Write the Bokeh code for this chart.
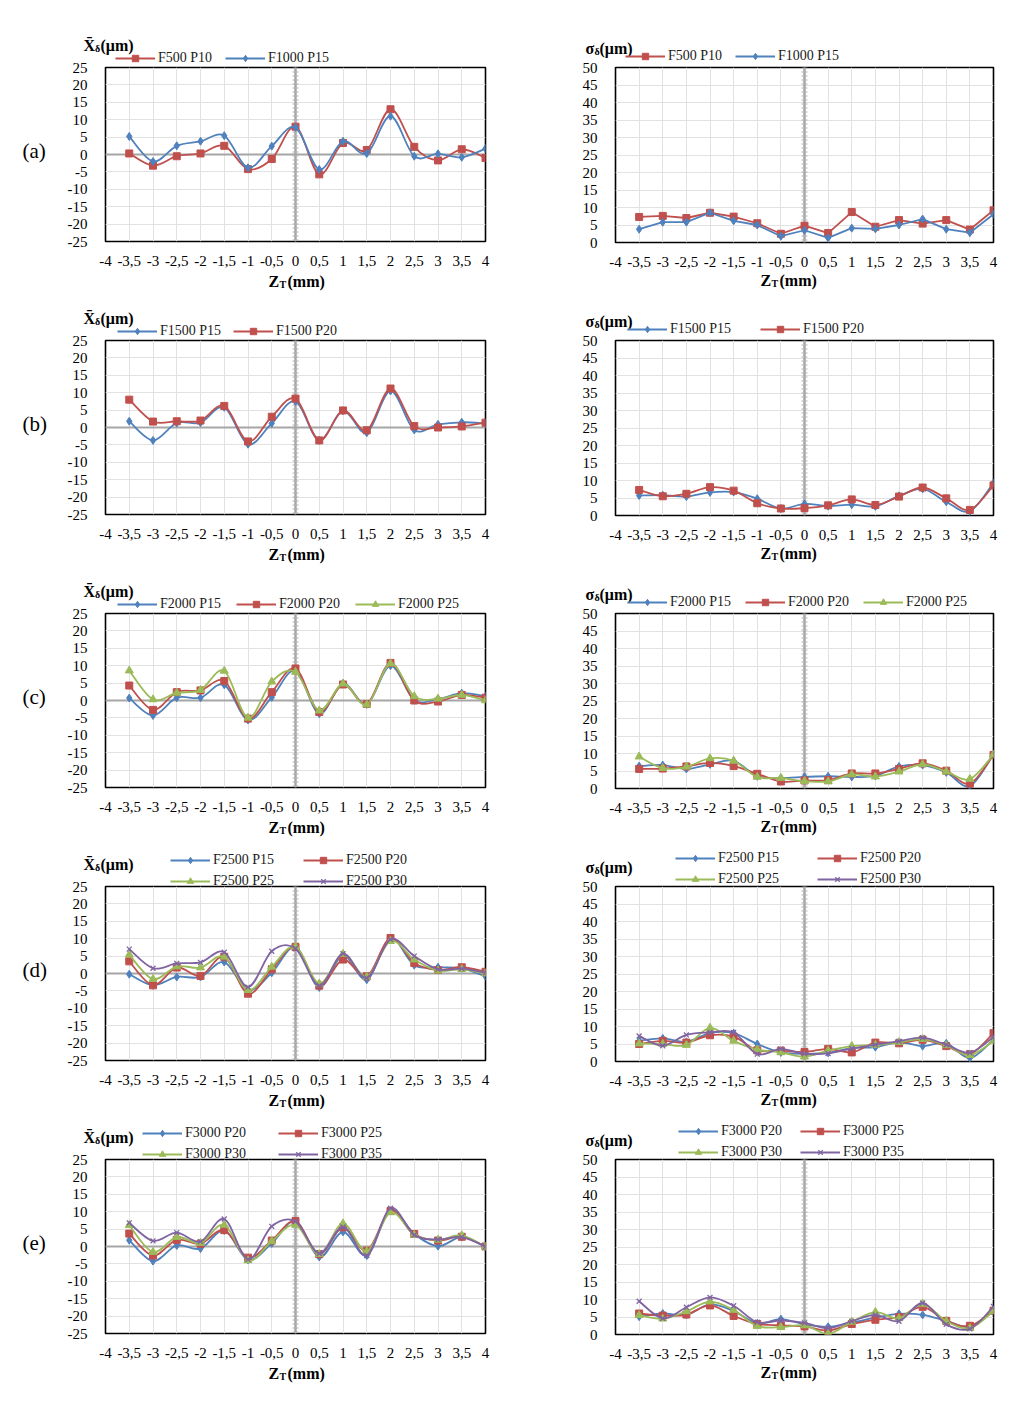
import numpy as np
from bokeh.plotting import figure
from bokeh.layouts import column, row
from bokeh.models import Range1d, FixedTicker, Span, Legend, LegendItem, Label
from bokeh.embed import file_html
from bokeh.resources import INLINE

# ---------------- data ----------------
Z_MM = [-3.5, -3, -2.5, -2, -1.5, -1, -0.5, 0, 0.5, 1, 1.5, 2, 2.5, 3, 3.5, 4]
X_TICKS = [-4, -3.5, -3, -2.5, -2, -1.5, -1, -0.5, 0, 0.5, 1, 1.5, 2, 2.5, 3, 3.5, 4]
X_TICK_LABELS = ["-4", "-3,5", "-3", "-2,5", "-2", "-1,5", "-1", "-0,5", "0", "0,5", "1",
                 "1,5", "2", "2,5", "3", "3,5", "4"]
MEAN_TICKS = [-25, -20, -15, -10, -5, 0, 5, 10, 15, 20, 25]
SD_TICKS = [0, 5, 10, 15, 20, 25, 30, 35, 40, 45, 50]
ROW_LETTERS = ["(a)", "(b)", "(c)", "(d)", "(e)"]
MEAN_TITLE = "X\u0304"
SD_TITLE = "\u03c3"
SUB_DELTA = "\u03b4"
UNIT = "(\u03bcm)"
X_TITLE = ("Z", "T", "(mm)")

# (a)
MEAN_A_F500_P10 = [0.3, -3.2, -0.5, 0.3, 2.5, -4.2, -1.3, 8.0, -5.7, 3.3, 1.3, 13.0, 2.2, -1.7, 1.5, -1.0]
MEAN_A_F1000_P15 = [5.2, -2.0, 2.5, 3.8, 5.4, -3.8, 2.4, 7.8, -4.3, 3.8, 0.3, 11.0, -0.5, 0.2, -0.8, 1.7]
SD_A_F500_P10 = [7.3, 7.6, 7.0, 8.5, 7.4, 5.5, 2.5, 4.8, 2.7, 8.7, 4.5, 6.4, 5.4, 6.4, 3.7, 9.2]
SD_A_F1000_P15 = [3.8, 5.8, 5.8, 8.5, 6.2, 5.0, 1.8, 3.5, 1.3, 4.1, 3.9, 5.0, 6.7, 3.8, 2.8, 8.1]
# (b)
MEAN_B_F1500_P15 = [1.8, -3.7, 1.3, 1.4, 5.8, -4.8, 1.2, 7.5, -3.7, 4.8, -1.5, 10.5, -0.7, 0.9, 1.5, 1.2]
MEAN_B_F1500_P20 = [8.0, 1.7, 1.8, 2.0, 6.2, -4.0, 3.1, 8.3, -3.7, 4.9, -0.8, 11.2, 0.4, 0.0, 0.3, 1.4]
SD_B_F1500_P15 = [5.7, 5.8, 5.4, 6.6, 6.7, 4.8, 2.0, 3.3, 2.7, 3.1, 2.6, 5.6, 7.6, 3.9, 1.2, 9.3]
SD_B_F1500_P20 = [7.3, 5.5, 6.2, 8.1, 7.1, 3.5, 2.0, 2.1, 2.9, 4.6, 3.0, 5.4, 8.0, 4.9, 1.6, 8.6]
# (c)
MEAN_C_F2000_P15 = [0.7, -4.3, 0.8, 0.8, 4.5, -5.6, 0.9, 8.6, -3.8, 4.9, -1.1, 10.0, 0.1, 0.4, 2.1, 1.2]
MEAN_C_F2000_P20 = [4.3, -2.7, 2.4, 2.9, 5.6, -5.2, 2.4, 9.2, -3.3, 4.6, -1.0, 10.8, 0.0, -0.3, 1.6, 0.8]
MEAN_C_F2000_P25 = [8.6, 0.3, 2.2, 3.0, 8.5, -5.0, 5.4, 8.2, -2.9, 4.8, -1.2, 10.6, 1.2, 0.5, 1.6, 0.0]
SD_C_F2000_P15 = [6.4, 6.7, 5.6, 6.9, 7.9, 3.5, 3.0, 3.3, 3.5, 3.3, 3.6, 6.3, 6.7, 4.6, 0.7, 9.8]
SD_C_F2000_P20 = [5.6, 5.7, 6.3, 7.3, 6.4, 4.2, 2.0, 2.3, 2.4, 4.3, 4.3, 5.6, 7.2, 5.1, 1.4, 9.6]
SD_C_F2000_P25 = [9.1, 5.8, 6.2, 8.6, 7.9, 3.3, 3.0, 2.1, 2.0, 4.0, 3.4, 4.8, 6.9, 4.8, 2.7, 9.7]
# (d)
MEAN_D_F2500_P15 = [-0.2, -3.4, -1.0, -1.0, 3.3, -4.8, 0.2, 7.6, -4.0, 5.2, -1.8, 10.0, 2.4, 1.8, 1.5, -0.8]
MEAN_D_F2500_P20 = [3.5, -3.4, 1.7, -0.7, 4.8, -5.8, 1.2, 7.6, -3.5, 4.0, -0.8, 10.2, 3.0, 1.0, 1.8, 0.5]
MEAN_D_F2500_P25 = [5.4, -1.6, 2.0, 1.7, 4.8, -4.8, 1.9, 7.7, -2.9, 5.6, -1.0, 9.3, 4.0, 0.8, 1.2, 0.0]
MEAN_D_F2500_P30 = [7.0, 1.5, 2.9, 3.2, 6.1, -3.9, 6.4, 7.2, -3.5, 5.7, -1.3, 9.8, 5.0, 1.2, 1.4, 0.2]
SD_D_F2500_P15 = [5.9, 6.6, 5.6, 8.1, 8.1, 5.0, 2.6, 2.2, 2.5, 3.8, 4.1, 5.5, 4.4, 5.2, 1.0, 6.3]
SD_D_F2500_P20 = [5.0, 5.9, 5.4, 7.5, 7.1, 3.2, 3.1, 2.7, 3.6, 2.6, 5.4, 5.2, 6.2, 4.4, 2.1, 8.1]
SD_D_F2500_P25 = [5.1, 5.0, 4.7, 9.6, 5.9, 3.4, 2.6, 1.4, 3.1, 4.4, 4.7, 5.5, 6.4, 4.6, 1.8, 5.9]
SD_D_F2500_P30 = [7.3, 4.5, 7.6, 8.3, 8.3, 2.1, 3.6, 2.2, 2.3, 3.7, 4.8, 5.8, 6.8, 4.8, 2.5, 7.0]
# (e)
MEAN_E_F3000_P20 = [1.8, -4.2, 0.3, -0.6, 4.6, -3.8, 0.9, 7.3, -3.0, 4.2, -2.6, 10.3, 3.6, 0.1, 2.7, -0.1]
MEAN_E_F3000_P25 = [3.7, -2.6, 1.9, 0.8, 4.7, -3.2, 1.7, 7.3, -2.2, 5.5, -1.2, 10.2, 3.6, 1.7, 2.8, 0.0]
MEAN_E_F3000_P30 = [6.1, -1.6, 2.7, 1.0, 6.2, -4.0, 1.5, 6.2, -2.2, 6.6, -1.4, 9.8, 3.3, 1.9, 3.2, -0.1]
MEAN_E_F3000_P35 = [6.8, 1.6, 4.0, 1.4, 7.9, -3.7, 5.8, 7.2, -2.0, 5.6, -2.6, 11.0, 3.3, 2.0, 2.7, 0.0]
SD_E_F3000_P20 = [5.1, 6.0, 5.6, 8.6, 6.7, 3.2, 4.4, 2.9, 2.2, 3.4, 4.8, 5.9, 5.6, 3.9, 2.2, 7.0]
SD_E_F3000_P25 = [6.0, 5.4, 5.7, 8.3, 5.3, 3.0, 2.6, 2.3, 1.1, 3.0, 4.2, 5.0, 7.9, 3.9, 2.5, 6.8]
SD_E_F3000_P30 = [5.5, 4.5, 6.6, 9.4, 7.0, 2.4, 2.1, 2.6, 0.2, 3.6, 6.4, 4.6, 8.7, 3.8, 1.8, 6.7]
SD_E_F3000_P35 = [9.5, 4.6, 7.8, 10.6, 8.2, 3.5, 4.0, 3.3, 1.8, 3.8, 5.6, 3.8, 9.0, 2.9, 1.6, 8.0]

# ---------------- styles ----------------
SERIF = "Liberation Serif"
COLOR = {"blue": "#4F81BD", "red": "#C0504D", "green": "#9BBB59", "purple": "#8064A2"}
MARKER = {"blue": "diamond", "red": "square", "green": "triangle", "purple": "x"}
MSIZE = {"blue": 8, "red": 7, "green": 8, "purple": 7}
ROW_H = 273
TOP_PAD = 8

ROWS = [
    dict(mean=[("F500 P10", "red", MEAN_A_F500_P10), ("F1000 P15", "blue", MEAN_A_F1000_P15)],
         sd=[("F500 P10", "red", SD_A_F500_P10), ("F1000 P15", "blue", SD_A_F1000_P15)],
         mean_leg=(10, 62), sd_leg=(10, 62), sd_smooth=False),
    dict(mean=[("F1500 P15", "blue", MEAN_B_F1500_P15), ("F1500 P20", "red", MEAN_B_F1500_P20)],
         sd=[("F1500 P15", "blue", SD_B_F1500_P15), ("F1500 P20", "red", SD_B_F1500_P20)],
         mean_leg=(12, 68), sd_leg=(12, 85), sd_smooth=True),
    dict(mean=[("F2000 P15", "blue", MEAN_C_F2000_P15), ("F2000 P20", "red", MEAN_C_F2000_P20),
               ("F2000 P25", "green", MEAN_C_F2000_P25)],
         sd=[("F2000 P15", "blue", SD_C_F2000_P15), ("F2000 P20", "red", SD_C_F2000_P20),
             ("F2000 P25", "green", SD_C_F2000_P25)],
         mean_leg=(12, 71), sd_leg=(12, 70), sd_smooth=True),
    dict(mean=[("F2500 P15", "blue", MEAN_D_F2500_P15), ("F2500 P20", "red", MEAN_D_F2500_P20),
               ("F2500 P25", "green", MEAN_D_F2500_P25), ("F2500 P30", "purple", MEAN_D_F2500_P30)],
         sd=[("F2500 P15", "blue", SD_D_F2500_P15), ("F2500 P20", "red", SD_D_F2500_P20),
             ("F2500 P25", "green", SD_D_F2500_P25), ("F2500 P30", "purple", SD_D_F2500_P30)],
         mean_leg=(65, 85), sd_leg=(60, 94), sd_smooth=True),
    dict(mean=[("F3000 P20", "blue", MEAN_E_F3000_P20), ("F3000 P25", "red", MEAN_E_F3000_P25),
               ("F3000 P30", "green", MEAN_E_F3000_P30), ("F3000 P35", "purple", MEAN_E_F3000_P35)],
         sd=[("F3000 P20", "blue", SD_E_F3000_P20), ("F3000 P25", "red", SD_E_F3000_P25),
             ("F3000 P30", "green", SD_E_F3000_P30), ("F3000 P35", "purple", SD_E_F3000_P35)],
         mean_leg=(37, 88), sd_leg=(63, 74), sd_smooth=True),
]

LEFT_GEO = dict(min_border_left=105, frame_width=380, min_border_right=63,
                min_border_top=59, frame_height=174, min_border_bottom=40)
RIGHT_GEO = dict(min_border_left=67, frame_width=378, min_border_right=23,
                 min_border_top=57, frame_height=175, min_border_bottom=41)
LEFT_W = 105 + 380 + 63
RIGHT_W = 67 + 378 + 23
TOTAL_W = LEFT_W + RIGHT_W
TOTAL_H = TOP_PAD + len(ROWS) * ROW_H
OVERLAY_H = TOTAL_H + 16


def bezier_coords(xs, ys):
    x = np.asarray(xs, dtype=float)
    y = np.asarray(ys, dtype=float)
    xp = np.concatenate([[x[0]], x, [x[-1]]])
    yp = np.concatenate([[y[0]], y, [y[-1]]])
    i = np.arange(len(x) - 1)
    return dict(
        x0=x[:-1], y0=y[:-1], x1=x[1:], y1=y[1:],
        cx0=xp[i + 1] + (xp[i + 2] - xp[i]) / 6.0, cy0=yp[i + 1] + (yp[i + 2] - yp[i]) / 6.0,
        cx1=xp[i + 2] - (xp[i + 3] - xp[i + 1]) / 6.0, cy1=yp[i + 2] - (yp[i + 3] - yp[i + 1]) / 6.0,
    )


def make_panel(kind, series, smooth, first_row):
    geo = dict(LEFT_GEO if kind == "mean" else RIGHT_GEO)
    if first_row:
        geo["min_border_top"] += TOP_PAD
    if kind == "mean":
        yr, yticks = Range1d(-25, 25), MEAN_TICKS
    else:
        yr, yticks = Range1d(0, 50), SD_TICKS
    p = figure(x_range=Range1d(-4, 4), y_range=yr, output_backend="svg", toolbar_location=None,
               background_fill_color="white", border_fill_color="white", **geo)
    p.outline_line_color = "#000000"
    p.outline_line_width = 1.6

    for ax, ticks in ((p.xaxis[0], X_TICKS), (p.yaxis[0], yticks)):
        ax.ticker = FixedTicker(ticks=ticks)
        ax.axis_line_color = None
        ax.major_tick_line_color = None
        ax.minor_tick_line_color = None
        ax.major_label_text_font = SERIF
        ax.major_label_text_font_size = "15px"
        ax.major_label_text_color = "#000000"
    p.xaxis[0].major_label_overrides = {float(t): s for t, s in zip(X_TICKS, X_TICK_LABELS)}
    p.yaxis[0].major_label_overrides = {float(t): str(t) for t in yticks}
    p.xaxis[0].major_label_standoff = 8
    p.yaxis[0].major_label_standoff = 12
    p.xgrid.grid_line_color = "#e2e2e2"
    p.ygrid.grid_line_color = "#e2e2e2"

    if kind == "mean":
        p.add_layout(Span(location=0, dimension="width", line_color="#a6a6a6",
                          line_width=2, level="underlay"))
    p.add_layout(Span(location=0, dimension="height", line_color="#a6a6a6",
                      line_width=2.5, level="underlay"))
    p.add_layout(Span(location=0, dimension="height", line_color="#b3b3b3",
                      line_width=6, line_dash="1 3", level="underlay"))

    for name, col, vals in series:
        c = COLOR[col]
        if smooth:
            p.bezier(**bezier_coords(Z_MM, vals), line_color=c, line_width=1.8)
        else:
            p.line(Z_MM, vals, line_color=c, line_width=1.8)
        p.scatter(Z_MM, vals, marker=MARKER[col], size=MSIZE[col], fill_color=c,
                  line_color=c, line_width=1.3 if col == "purple" else 1)
    return p


# ---------------- transparent overlay for titles, row letters and legends ----------------
ov = figure(width=TOTAL_W, height=OVERLAY_H, x_range=Range1d(0, TOTAL_W), y_range=Range1d(OVERLAY_H, 0),
            x_axis_type=None, y_axis_type=None, output_backend="svg", toolbar_location=None,
            min_border=0, margin=(-TOTAL_H, 0, 0, 0))
ov.grid.visible = False
ov.outline_line_color = None
ov.background_fill_alpha = 0
ov.border_fill_alpha = 0
NAN = np.array([np.nan])


def add_text(x, y, text, size=15, bold=True, baseline="alphabetic"):
    ov.add_layout(Label(x=x, y=y, text=text, text_font=SERIF, text_font_size=f"{size}px",
                        text_font_style="bold" if bold else "normal", text_color="#000000",
                        text_baseline=baseline, text_align="left"))


def add_legend(series, frame_left, frame_top, leg):
    lx, lw = leg
    items = []
    for name, col, _vals in series:
        c = COLOR[col]
        ln = ov.line(x=NAN, y=NAN, line_color=c, line_width=1.8)
        mk = ov.scatter(x=NAN, y=NAN, marker=MARKER[col], fill_color=c, line_color=c,
                        line_width=1.3 if col == "purple" else 1)
        items.append(LegendItem(label=name, renderers=[ln, mk]))
    n = len(items)
    bottom = frame_top - 1 if n < 4 else frame_top + 3
    legend = Legend(items=items, location=(frame_left + lx, OVERLAY_H - bottom),
                    orientation="horizontal", ncols=2 if n == 4 else n, padding=0, margin=0,
                    spacing=5, glyph_width=40, glyph_height=16, label_height=16, label_width=lw,
                    label_standoff=3, label_text_font=SERIF, label_text_font_size="14px",
                    label_text_color="#1a1a1a", background_fill_alpha=0, border_line_alpha=0)
    ov.add_layout(legend)


for k, (letter, cfg) in enumerate(zip(ROW_LETTERS, ROWS)):
    l_top = TOP_PAD + k * ROW_H + LEFT_GEO["min_border_top"]
    l_bot = l_top + LEFT_GEO["frame_height"]
    r_top = TOP_PAD + k * ROW_H + RIGHT_GEO["min_border_top"]
    r_bot = r_top + RIGHT_GEO["frame_height"]
    r_left = LEFT_W + RIGHT_GEO["min_border_left"]
    l_left = LEFT_GEO["min_border_left"]
    add_text(22, (l_top + l_bot) / 2 - 4, letter, size=21, bold=False, baseline="middle")
    # y titles
    add_text(83, l_top - 22.5, MEAN_TITLE, size=16)
    add_text(94.5, l_top - 19.5, SUB_DELTA, size=10)
    add_text(100, l_top - 22.5, UNIT, size=16)
    add_text(585, r_top - 17, SD_TITLE, size=16)
    add_text(594, r_top - 14, SUB_DELTA, size=10)
    add_text(599, r_top - 17, UNIT, size=16)
    # x titles
    for zx, bot in ((268, l_bot), (760, r_bot)):
        add_text(zx, bot + 40, X_TITLE[0], size=16)
        add_text(zx + 11, bot + 43, X_TITLE[1], size=10)
        add_text(zx + 19, bot + 40, X_TITLE[2], size=16)
    add_legend(cfg["mean"], l_left, l_top, cfg["mean_leg"])
    add_legend(cfg["sd"], r_left, r_top, cfg["sd_leg"])

rows = []
for k, cfg in enumerate(ROWS):
    left = make_panel("mean", cfg["mean"], True, k == 0)
    right = make_panel("sd", cfg["sd"], cfg["sd_smooth"], k == 0)
    rows.append(row(left, right, spacing=0))

layout = column(column(*rows, spacing=0), ov, spacing=0)

with open("out.html", "w") as f:
    f.write(file_html(layout, INLINE))
